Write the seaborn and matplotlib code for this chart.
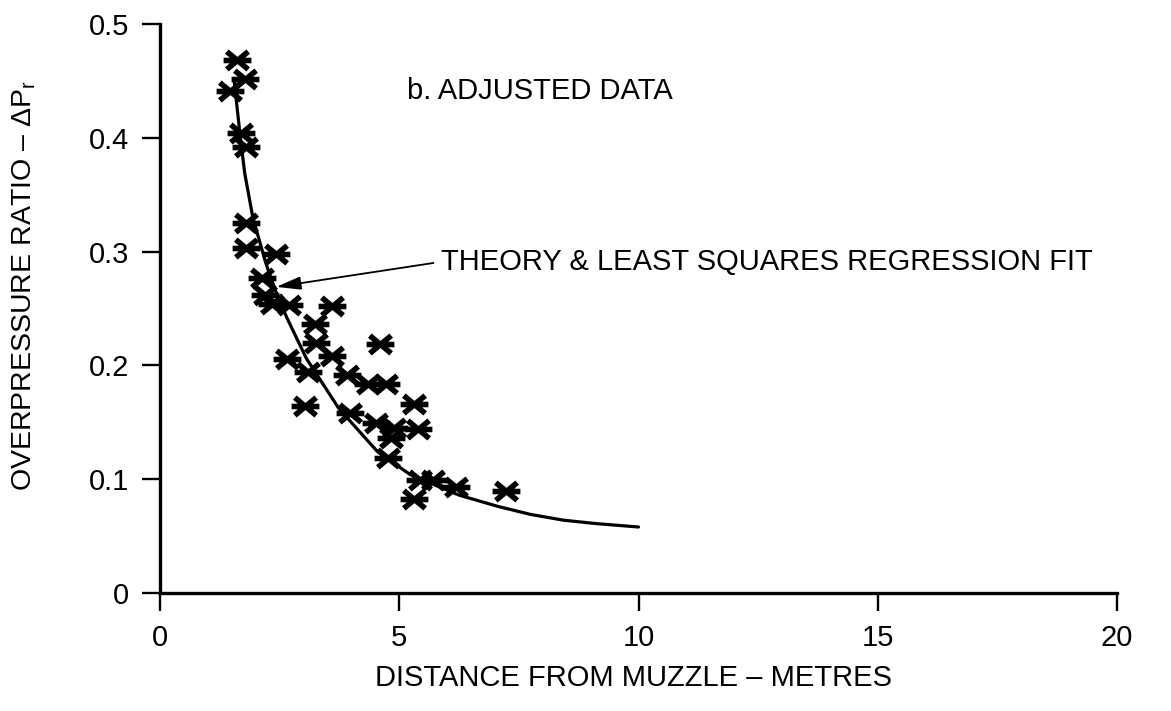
import matplotlib
matplotlib.use("Agg")
import matplotlib.pyplot as plt
from matplotlib.path import Path
import seaborn as sns
import pandas as pd

# Measured overpressure ratios against distance from the muzzle (adjusted data)
distance_m = [1.60, 1.77, 1.46, 1.69, 1.80, 1.80, 1.80, 2.43, 2.14, 2.20,
              2.35, 2.70, 3.60, 3.23, 3.26, 4.59, 3.60, 2.65, 3.09, 3.91,
              4.35, 4.72, 3.02, 5.30, 3.98, 4.52, 4.89, 5.40, 4.83, 4.77,
              5.44, 5.71, 6.18, 5.30, 7.24]
overpressure_ratio = [0.468, 0.452, 0.441, 0.404, 0.392, 0.325, 0.303, 0.298, 0.277, 0.262,
                      0.254, 0.253, 0.252, 0.236, 0.220, 0.219, 0.208, 0.206, 0.194, 0.192,
                      0.184, 0.184, 0.164, 0.166, 0.158, 0.149, 0.145, 0.144, 0.136, 0.119,
                      0.099, 0.099, 0.093, 0.083, 0.090]

# Theory / least squares regression curve
fit_distance_m = [1.55, 1.67, 1.77, 1.94, 2.21, 2.41, 2.65, 3.06, 3.74, 4.55,
                  5.23, 6.25, 7.07, 7.75, 8.43, 9.11, 10.0]
fit_ratio = [0.450, 0.404, 0.369, 0.330, 0.290, 0.266, 0.242, 0.206, 0.162, 0.124,
             0.104, 0.086, 0.076, 0.069, 0.064, 0.061, 0.058]

x_ticks = [0, 5, 10, 15, 20]
x_tick_labels = ["0", "5", "10", "15", "20"]
y_ticks = [0, 0.1, 0.2, 0.3, 0.4, 0.5]
y_tick_labels = ["0", "0.1", "0.2", "0.3", "0.4", "0.5"]

sns.set_theme(style="ticks")
plt.rcParams["font.family"] = ["Liberation Sans", "DejaVu Sans"]
plt.rcParams["mathtext.fontset"] = "custom"
plt.rcParams["mathtext.rm"] = "Liberation Sans"
plt.rcParams["mathtext.it"] = "Liberation Sans:italic"

# Asterisk marker: a horizontal bar crossed by two shallow diagonals
c, s_ = 0.77, 0.64
star_path = Path(
    [(-1, 0), (1, 0), (-c, -s_), (c, s_), (-c, s_), (c, -s_)],
    [Path.MOVETO, Path.LINETO, Path.MOVETO, Path.LINETO, Path.MOVETO, Path.LINETO],
)

W, H = 1171, 711
fig = plt.figure(figsize=(W / 100, H / 100), dpi=100)
fig.patch.set_facecolor("white")
ax = fig.add_axes([160 / W, 118 / H, 957 / W, 569 / H])
ax.set_facecolor("white")

points = pd.DataFrame({"distance": distance_m, "ratio": overpressure_ratio})
fit = pd.DataFrame({"distance": fit_distance_m, "ratio": fit_ratio})

sns.lineplot(data=fit, x="distance", y="ratio", color="black", linewidth=2.3,
             ax=ax, zorder=2)
sns.scatterplot(data=points, x="distance", y="ratio", marker=star_path, s=400,
                color="black", edgecolor="black", linewidth=4.0, ax=ax,
                zorder=3, clip_on=False)

ax.set_xlim(0, 20)
ax.set_ylim(0, 0.5)
ax.set_xticks(x_ticks, x_tick_labels)
ax.set_yticks(y_ticks, y_tick_labels)

for side in ("top", "right"):
    ax.spines[side].set_visible(False)
for side in ("left", "bottom"):
    ax.spines[side].set_linewidth(2.4)
    ax.spines[side].set_color("black")

ax.tick_params(axis="both", direction="out", length=13, width=1.7,
               colors="black", labelsize=21, pad=9)

ax.set_xlabel("DISTANCE FROM MUZZLE – METRES", fontsize=21, color="black")
ax.xaxis.set_label_coords(0.495, -0.125)
ax.set_ylabel(r"OVERPRESSURE RATIO – $\mathregular{\Delta P_r}$", fontsize=20.5,
              color="black")
ax.yaxis.set_label_coords(-0.128, 0.54)

ax.text(5.16, 0.441, "b. ADJUSTED DATA", fontsize=21, ha="left", va="center",
        color="black")

ax.annotate("THEORY & LEAST SQUARES REGRESSION FIT", xy=(2.43, 0.269),
            xytext=(5.87, 0.291), fontsize=21, ha="left", va="center",
            color="black",
            arrowprops=dict(arrowstyle="-|>,head_length=0.75,head_width=0.2",
                            color="black", lw=1.3, mutation_scale=20,
                            shrinkA=3, shrinkB=0, relpos=(0, 0.5)))

fig.savefig("out.png", dpi=100, facecolor="white")
